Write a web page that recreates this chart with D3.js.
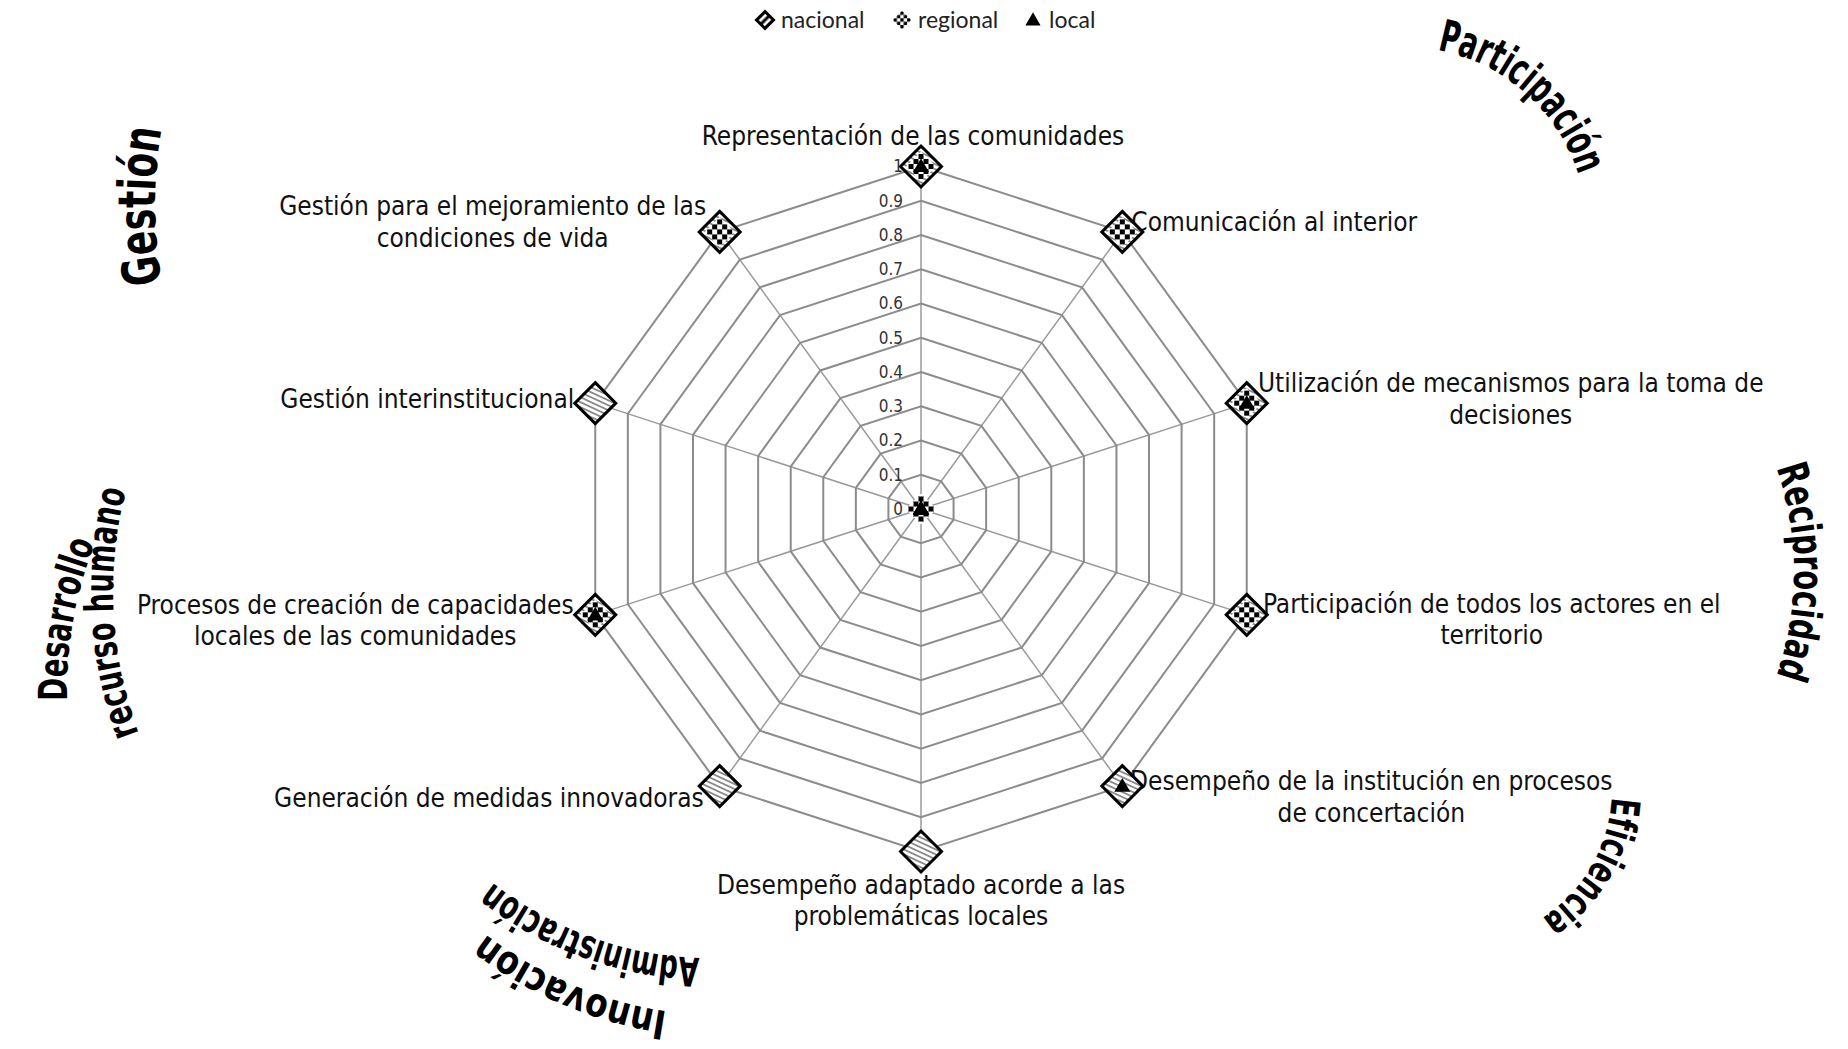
<!DOCTYPE html>
<html lang="es">
<head>
<meta charset="UTF-8">
<title>Radar</title>
<script src="https://cdn.jsdelivr.net/npm/d3@7"></script>
<style>
body { margin: 0; background: #fff; }
svg { display: block; }
.lbl { font-family: "DejaVu Sans Condensed", "DejaVu Sans", sans-serif; font-size: 26px; fill: #111; }
.tick { font-family: "DejaVu Sans Condensed", "DejaVu Sans", sans-serif; font-size: 17px; fill: #333; }
.legend { font-family: Lato, sans-serif; font-size: 23px; fill: #222; }
.title { font-family: "DejaVu Sans Condensed", "DejaVu Sans", sans-serif; font-weight: bold; fill: #000; }
</style>
</head>
<body>
<div id="chart"></div>
<script>
// radar axes, clockwise from the top
var categories = [
  ["Representación de las comunidades"],
  ["Comunicación al interior"],
  ["Utilización de mecanismos para la toma de", "decisiones"],
  ["Participación de todos los actores en el", "territorio"],
  ["Desempeño de la institución en procesos", "de concertación"],
  ["Desempeño adaptado acorde a las", "problemáticas locales"],
  ["Generación de medidas innovadoras"],
  ["Procesos de creación de capacidades", "locales de las comunidades"],
  ["Gestión interinstitucional"],
  ["Gestión para el mejoramiento de las", "condiciones de vida"]
];
var seriesNames = ["nacional", "regional", "local"];
var nacional = [1, 1, 1, 1, 1, 1, 1, 1, 1, 1];
var regional = [1, 1, 1, 1, 0, 0, 0, 1, 0, 1];
var local    = [1, 0, 1, 0, 1, 0, 0, 1, 0, 0];
var tickValues = [0, 0.1, 0.2, 0.3, 0.4, 0.5, 0.6, 0.7, 0.8, 0.9, 1];
var tickLabels = ["0", "0.1", "0.2", "0.3", "0.4", "0.5", "0.6", "0.7", "0.8", "0.9", "1"];
// curved group titles (one entry per line)
var groupTitles = ["Participación", "Reciprocidad", "Eficiencia", "Innovación", "Administración", "Desarrollo", "recurso humano", "Gestión"];

var W = 1848, H = 1049;
var cx = 921, cy = 509, R = 342.5;

// where each axis label sits relative to its outer vertex
var labelPos = [
  {dx: -8, dy: -31, anchor: "middle"},
  {dx: 9, dy: -10, anchor: "start"},
  {dx: 264, dy: -20, anchor: "middle"},
  {dx: 245, dy: -11, anchor: "middle"},
  {dx: 249, dy: -5, anchor: "middle"},
  {dx: 0, dy: 33, anchor: "middle"},
  {dx: -16, dy: 12, anchor: "end"},
  {dx: -240, dy: -10, anchor: "middle"},
  {dx: -21, dy: -4, anchor: "end"},
  {dx: -227, dy: -26, anchor: "middle"}
];
// arc for each title line: centre, radius, mid angle (deg, clockwise from top), length, font size
var titleArcs = [
  {cx: 1404, cy: 230, r: 183, a: 41.5, len: 198, size: 44},
  {cx: 1478, cy: 572, r: 316, a: 90, len: 212, size: 42},
  {cx: 1458, cy: 789, r: 154, a: 120, len: 145, size: 40},
  {cx: 727, cy: 618, r: 398, a: 203, len: 200, size: 40},
  {cx: 711, cy: 604, r: 354, a: 200, len: 224, size: 40},
  {cx: 467, cy: 690, r: 400, a: 280, len: 161, size: 40},
  {cx: 513, cy: 592, r: 400, a: 267, len: 247, size: 40},
  {cx: 605, cy: 206, r: 450, a: 270, len: 155, size: 52}
];

var svg = d3.select("#chart").append("svg")
  .attr("width", W)
  .attr("height", H);

var defs = svg.append("defs");
// diagonal hatch for "nacional"
var hatch = defs.append("pattern")
  .attr("id", "hatch")
  .attr("patternUnits", "userSpaceOnUse")
  .attr("width", 12).attr("height", 4.5)
  .attr("patternTransform", "rotate(25)");
hatch.append("rect").attr("width", 12).attr("height", 4.5).attr("fill", "#fff");
hatch.append("rect").attr("y", 0).attr("width", 12).attr("height", 1.8).attr("fill", "#8a8a8a");

var hatchL = defs.append("pattern")
  .attr("id", "hatchL")
  .attr("patternUnits", "userSpaceOnUse")
  .attr("width", 12).attr("height", 6)
  .attr("patternTransform", "rotate(-45)");
hatchL.append("rect").attr("width", 12).attr("height", 6).attr("fill", "#000");
hatchL.append("rect").attr("y", 1.5).attr("width", 12).attr("height", 3).attr("fill", "#fff");

// checker for "regional"
function checker(id, c) {
  var p = defs.append("pattern")
    .attr("id", id)
    .attr("patternUnits", "userSpaceOnUse")
    .attr("x", -c / 2).attr("y", -c / 2)
    .attr("width", 2 * c).attr("height", 2 * c);
  p.append("rect").attr("width", 2 * c).attr("height", 2 * c).attr("fill", "#fff");
  p.append("rect").attr("width", c).attr("height", c).attr("fill", "#000");
  p.append("rect").attr("x", c).attr("y", c).attr("width", c).attr("height", c).attr("fill", "#000");
}
checker("checker", 5);
checker("checkerS", 3.4);

var n = categories.length;
var angle = d3.scaleLinear().domain([0, n]).range([0, 2 * Math.PI]);
var r = d3.scaleLinear().domain([0, 1]).range([0, R]);

function px(i, v) { return cx + r(v) * Math.sin(angle(i)); }
function py(i, v) { return cy - r(v) * Math.cos(angle(i)); }

var g = svg.append("g").attr("transform", "translate(" + cx + "," + cy + ")");

// spokes
g.selectAll(".spoke")
  .data(d3.range(n))
  .enter().append("line")
    .attr("x1", 0).attr("y1", 0)
    .attr("x2", function(i) { return px(i, 1) - cx; })
    .attr("y2", function(i) { return py(i, 1) - cy; })
    .attr("stroke", "#9a9a9a")
    .attr("stroke-width", 1.5);

// rings
var ring = d3.lineRadial()
  .angle(function(d) { return angle(d[0]); })
  .radius(function(d) { return r(d[1]); })
  .curve(d3.curveLinearClosed);

g.selectAll(".ring")
  .data(tickValues.slice(1))
  .enter().append("path")
    .attr("d", function(v) { return ring(d3.range(n).map(function(i) { return [i, v]; })); })
    .attr("fill", "none")
    .attr("stroke", "#8c8c8c")
    .attr("stroke-width", 2);

// tick labels on the vertical axis
g.selectAll(".tick")
  .data(tickValues)
  .enter().append("text")
    .attr("class", "tick")
    .attr("x", -18)
    .attr("y", function(v) { return -r(v); })
    .attr("dy", "0.35em")
    .attr("text-anchor", "end")
    .text(function(v, i) { return tickLabels[i]; });

// axis labels
svg.selectAll(".lbl")
  .data(categories)
  .enter().append("text")
    .attr("class", "lbl")
    .attr("text-anchor", function(d, i) { return labelPos[i].anchor; })
    .each(function(lines, i) {
      var t = d3.select(this);
      var x = px(i, 1) + labelPos[i].dx;
      var y = py(i, 1) + labelPos[i].dy;
      lines.forEach(function(s, k) {
        t.append("tspan")
          .attr("x", x)
          .attr("y", y + k * 31.5)
          .attr("dy", "0.35em")
          .text(s);
      });
    });

// markers
var diamond = function(h) { return "M0," + (-h) + "L" + h + ",0L0," + h + "L" + (-h) + ",0Z"; };
var tri = d3.symbol().type(d3.symbolTriangle).size(110);

svg.append("g").selectAll("path")
  .data(nacional)
  .enter().append("path")
    .attr("transform", function(v, i) { return "translate(" + px(i, v) + "," + py(i, v) + ")"; })
    .attr("d", diamond(20.5))
    .attr("fill", "url(#hatch)")
    .attr("stroke", "#000")
    .attr("stroke-width", 3);

svg.append("g").selectAll("path")
  .data(regional)
  .enter().append("path")
    .attr("transform", function(v, i) { return "translate(" + px(i, v) + "," + py(i, v) + ")"; })
    .attr("d", diamond(15))
    .attr("fill", "url(#checker)");

svg.append("g").selectAll("path")
  .data(local)
  .enter().append("path")
    .attr("transform", function(v, i) { return "translate(" + px(i, v) + "," + (py(i, v) + 1) + ")"; })
    .attr("d", tri)
    .attr("fill", "#000");

// legend
var legendX = [765, 902, 1033];
var leg = svg.append("g").attr("transform", "translate(0,20)");
seriesNames.forEach(function(s, k) {
  var x = legendX[k];
  if (k === 0) {
    leg.append("path").attr("transform", "translate(" + x + ",0)").attr("d", diamond(8.5))
      .attr("fill", "url(#hatchL)").attr("stroke", "#000").attr("stroke-width", 3);
  } else if (k === 1) {
    leg.append("path").attr("transform", "translate(" + x + ",0)").attr("d", diamond(9.5))
      .attr("fill", "url(#checkerS)");
  } else {
    leg.append("path").attr("transform", "translate(" + x + ",1)")
      .attr("d", d3.symbol().type(d3.symbolTriangle).size(100)()).attr("fill", "#000");
  }
  leg.append("text").attr("class", "legend")
    .attr("x", x + 16).attr("y", 0).attr("dy", "0.35em")
    .text(s);
});

// curved group titles
var tg = svg.append("g");
groupTitles.forEach(function(s, k) {
  var a = titleArcs[k];
  var mid = a.a * Math.PI / 180;
  var span = Math.min(a.len / a.r, Math.PI * 0.9);
  var a0 = mid - span, a1 = mid + span;
  var p0 = [a.cx + a.r * Math.sin(a0), a.cy - a.r * Math.cos(a0)];
  var p1 = [a.cx + a.r * Math.sin(a1), a.cy - a.r * Math.cos(a1)];
  var d = "M" + p0[0] + "," + p0[1] + "A" + a.r + "," + a.r + " 0 " + (2 * span > Math.PI ? 1 : 0) + " 1 " + p1[0] + "," + p1[1];
  defs.append("path").attr("id", "tp" + k).attr("d", d);
  tg.append("text")
    .attr("class", "title")
    .attr("font-size", a.size)
    .append("textPath")
      .attr("href", "#tp" + k)
      .attr("startOffset", "50%")
      .attr("text-anchor", "middle")
      .attr("textLength", a.len)
      .attr("lengthAdjust", "spacingAndGlyphs")
      .text(s);
});
</script>
</body>
</html>
